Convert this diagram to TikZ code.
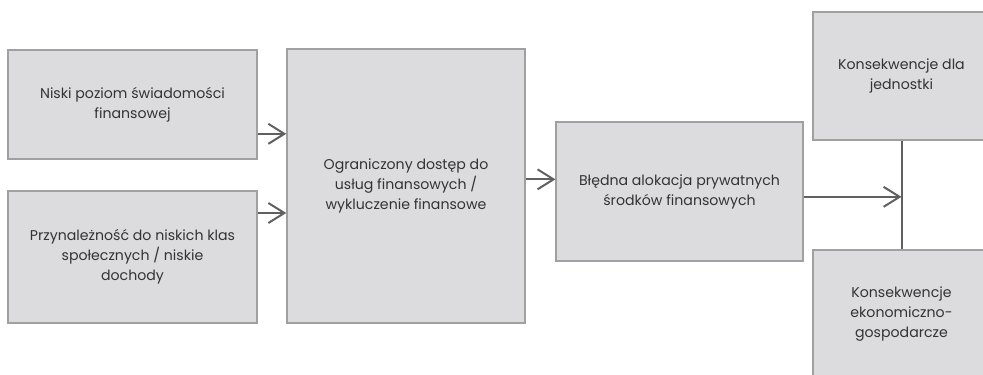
\documentclass[tikz,border=0pt]{standalone}
\usepackage{fontspec}
\setmainfont{Poppins}
\usepackage{xcolor}
\usetikzlibrary{positioning, arrows.meta, calc}
\definecolor{boxfill}{HTML}{DCDCDE}
\definecolor{boxline}{HTML}{A0A0A0}
\definecolor{arrgray}{HTML}{606060}
\definecolor{txtgray}{HTML}{333333}

\begin{document}
\begin{tikzpicture}[
  x=0.75pt, y=-0.75pt,
  box/.style={rectangle, draw=boxline, fill=boxfill, line width=1.1pt, inner sep=4pt,
    align=center, text=txtgray, font=\fontsize{10.6}{15}\selectfont},
  arr/.style={-{Straight Barb[length=12pt, width=15pt, line width=1.5pt]}, line width=1.5pt, arrgray},
  link/.style={line width=1.5pt, arrgray}
]
\clip (0,0) rectangle (983,375);
\node[box, minimum width=187pt, minimum height=82pt] (niski) at (132.5,104.5) {Niski poziom świadomości\\finansowej};
\node[box, minimum width=187pt, minimum height=99pt] (klasy) at (132.5,257) {Przynależność do niskich klas\\społecznych / niskie\\dochody};
\node[box, minimum width=178.5pt, minimum height=205.5pt] (dostep) at (406,186) {Ograniczony dostęp do\\usług finansowych /\\wykluczenie finansowe};
\node[box, minimum width=185pt, minimum height=104pt] (alokacja) at (679.5,191.5) {Błędna alokacja prywatnych\\środków finansowych};
\node[box, minimum width=133pt, minimum height=96pt] (jednostka) at (901.5,76) {Konsekwencje dla\\jednostki};
\node[box, minimum width=133pt, minimum height=96pt] (gospodarka) at (901.5,314) {Konsekwencje\\ekonomiczno-\\gospodarcze};

\draw[arr] ([yshift=-22pt]niski.east) -- ([yshift=-22pt]niski.east -| dostep.west);
\draw[arr] ([yshift=33pt]klasy.east) -- ([yshift=33pt]klasy.east -| dostep.west);
\draw[arr] ([yshift=5pt]dostep.east) -- ([yshift=5pt]dostep.east -| alokacja.west);
\draw[link] (jednostka.south) -- (gospodarka.north);
\draw[arr] ([yshift=-4pt]alokacja.east) -- ([yshift=-4pt]alokacja.east -| jednostka.south);
\end{tikzpicture}
\end{document}
